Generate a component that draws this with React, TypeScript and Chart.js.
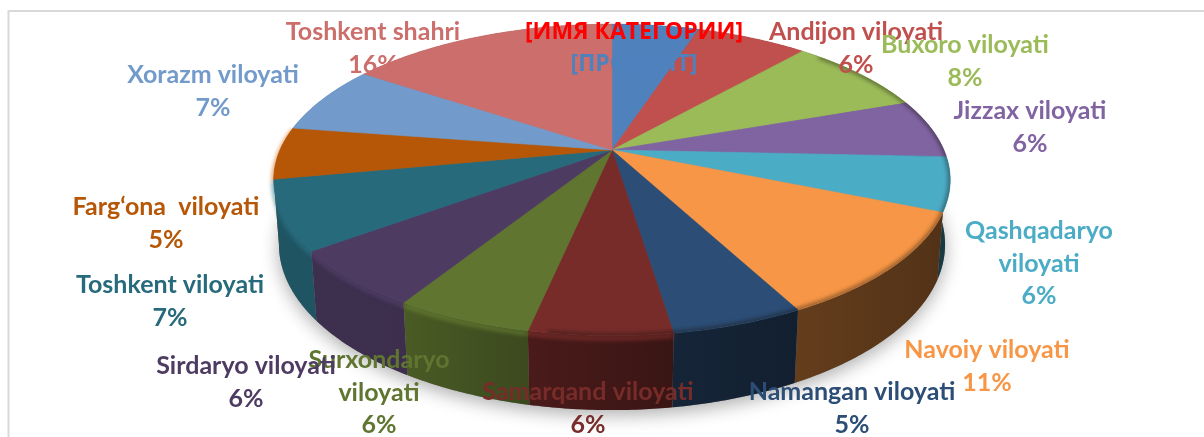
import React, { useEffect, useRef } from "react";
import { Chart, registerables } from "chart.js";

Chart.register(...registerables);

const categories = [
  "[ИМЯ КАТЕГОРИИ]", "Andijon viloyati", "Buxoro viloyati", "Jizzax viloyati",
  "Qashqadaryo\nviloyati", "Navoiy viloyati", "Namangan viloyati", "Samarqand viloyati",
  "Surxondaryo\nviloyati", "Sirdaryo viloyati", "Toshkent viloyati", "Farg‘ona  viloyati",
  "Xorazm viloyati", "Toshkent shahri",
];
const values = [5.0, 6.4, 8.2, 6.1, 5.6, 11.0, 5.3, 5.7, 5.5, 6.0, 7.2, 5.4, 7.1, 15.5];
const percentLabels = ["[ПРОЦЕНТ]", "6%", "8%", "6%", "6%", "11%", "5%", "6%", "6%", "6%", "7%", "5%", "7%", "16%"];
const sliceColors = [
  "#4f81bd", "#c0504d", "#9bbb59", "#8064a2", "#4bacc6", "#f79646", "#2c4d75",
  "#772c2a", "#5f7530", "#4d3b62", "#276a7c", "#b65708", "#729aca", "#cb6e6c",
];
const titleColors = ["#ff0000", ...sliceColors.slice(1)];
// label layout: centre x and first-line centre y
const labelAnchorX = [634, 856, 965, 1030, 1039, 987, 852, 588, 379, 246, 170, 166, 213, 373];
const labelAnchorY = [32, 32, 45, 111, 231, 350, 392, 392, 360, 366, 285, 207, 75, 32];

const LINE_H = 32.5;
const FONT = 'bold 25px Lato, "Open Sans", sans-serif';
const FONT_CYRILLIC = 'bold 23px "Open Sans", sans-serif';

function rgb(hex: string) {
  return [1, 3, 5].map((i) => parseInt(hex.slice(i, i + 2), 16));
}
function shade(hex: string, f: number, a = 1) {
  const [r, g, b] = rgb(hex).map((c) => Math.min(255, Math.round(c * f)));
  return `rgba(${r},${g},${b},${a})`;
}
const wallStops = [[275, 0.8], [405, 0.78], [530, 0.62], [675, 0.48], [800, 0.4], [950, 0.33]];
function wallFactor(x: number) {
  for (let i = 1; i < wallStops.length; i++) {
    const [x0, f0] = wallStops[i - 1];
    const [x1, f1] = wallStops[i];
    if (x <= x1) return f0 + ((f1 - f0) * Math.max(0, x - x0)) / (x1 - x0);
  }
  return 0.33;
}

const pie3d = {
  id: "pie3d",
  beforeDatasetsDraw(chart: any) {
    const ctx: CanvasRenderingContext2D = chart.ctx;
    const arcs = chart.getDatasetMeta(0).data;
    const { x: cx, y: cy, outerRadius: R } = arcs[0];
    const A = R * 2.213, B = R, D = R * 0.427, k = 0.192, m = 0.015;
    const pt = (a: number, h: number) => {
      const t = a + Math.PI / 2;
      const u = Math.sin(t), v = Math.cos(t);
      const w = 1 + k * v + m * h;
      return [cx + (A * u) / w, cy + (-B * v + D * h) / w];
    };
    const rim = (a0: number, a1: number, h: number) => {
      const n = Math.max(2, Math.ceil(Math.abs(a1 - a0) / 0.01));
      const out: number[][] = [];
      for (let i = 0; i <= n; i++) out.push(pt(a0 + ((a1 - a0) * i) / n, h));
      return out;
    };
    const trace = (p: number[][]) => p.forEach(([x, y]) => ctx.lineTo(x, y));

    ctx.save();
    // frame of the chart area
    ctx.strokeStyle = "#d9d9d9";
    ctx.lineWidth = 2;
    ctx.beginPath();
    ctx.moveTo(8.5, 437);
    ctx.lineTo(8.5, 11);
    ctx.lineTo(1204, 11);
    ctx.stroke();

    // soft ground shadow
    ctx.save();
    ctx.shadowColor = "rgba(0,0,0,0.32)";
    ctx.shadowBlur = 18;
    ctx.shadowOffsetY = 5;
    ctx.fillStyle = "#888";
    ctx.beginPath();
    trace(rim(-Math.PI / 2, 1.5 * Math.PI, 1));
    ctx.closePath();
    ctx.fill();
    ctx.restore();

    // walls, back to front
    const order = arcs
      .map((_: any, i: number) => i)
      .sort((a: number, b: number) => {
        const mid = (i: number) => Math.abs((arcs[i].startAngle + arcs[i].endAngle) / 2 + Math.PI / 2 - Math.PI);
        return mid(b) - mid(a);
      });
    for (const i of order) {
      const { startAngle: a0, endAngle: a1 } = arcs[i];
      const top = rim(a0, a1, 0);
      const bot = rim(a1, a0, 1);
      const all = top.concat(bot);
      const xs = all.map((p) => p[0]);
      const x0 = Math.min(...xs), x1 = Math.max(...xs);
      const g = ctx.createLinearGradient(x0, 0, x1 + 1, 0);
      g.addColorStop(0, shade(sliceColors[i], wallFactor(x0)));
      g.addColorStop(1, shade(sliceColors[i], wallFactor(x1)));
      ctx.fillStyle = g;
      ctx.beginPath();
      ctx.moveTo(all[0][0], all[0][1]);
      trace(all);
      ctx.closePath();
      ctx.fill();
    }

    // bevel highlight just under the rim on the front-left
    ctx.save();
    ctx.filter = "blur(2px)";
    ctx.lineWidth = 4;
    arcs.forEach((arc: any, i: number) => {
      const mid = (arc.startAngle + arc.endAngle) / 2 + Math.PI / 2;
      if (mid < Math.PI * 0.9 || mid > Math.PI * 1.6) return;
      ctx.strokeStyle = shade(sliceColors[i], 1.15, 0.75);
      ctx.beginPath();
      const p = rim(arc.startAngle, arc.endAngle, 0.035);
      ctx.moveTo(p[0][0], p[0][1]);
      trace(p);
      ctx.stroke();
    });
    ctx.restore();

    // top face
    arcs.forEach((arc: any, i: number) => {
      ctx.fillStyle = sliceColors[i];
      ctx.strokeStyle = sliceColors[i];
      ctx.lineWidth = 0.6;
      ctx.beginPath();
      ctx.moveTo(arc.x, arc.y);
      trace(rim(arc.startAngle, arc.endAngle, 0));
      ctx.closePath();
      ctx.fill();
      ctx.stroke();
    });

    // dark soft edge along the right-hand rim
    ctx.save();
    ctx.beginPath();
    ctx.moveTo(cx, cy);
    trace(rim(-Math.PI / 2, 1.5 * Math.PI, 0));
    ctx.closePath();
    ctx.clip();
    ctx.filter = "blur(2px)";
    ctx.strokeStyle = "rgba(20,15,10,0.5)";
    ctx.lineWidth = 4;
    ctx.beginPath();
    const edge = rim(-0.25 * Math.PI, 0.55 * Math.PI, 0);
    ctx.moveTo(edge[0][0], edge[0][1]);
    trace(edge);
    ctx.stroke();
    ctx.restore();

    // data labels
    ctx.textAlign = "center";
    ctx.textBaseline = "middle";
    categories.forEach((name, i) => {
      ctx.font = i === 0 ? FONT_CYRILLIC : FONT;
      const lines = name.split("\n");
      lines.forEach((line, j) => {
        ctx.fillStyle = titleColors[i];
        ctx.fillText(line, labelAnchorX[i], labelAnchorY[i] + j * LINE_H);
      });
      ctx.fillStyle = sliceColors[i];
      ctx.fillText(percentLabels[i], labelAnchorX[i], labelAnchorY[i] + lines.length * LINE_H);
    });
    ctx.restore();
    return false;
  },
};

export default function App() {
  const ref = useRef<HTMLCanvasElement>(null);
  useEffect(() => {
    const chart = new Chart(ref.current as HTMLCanvasElement, {
      type: "pie",
      data: {
        labels: categories.map((c) => c.replace("\n", " ")),
        datasets: [{ data: values, backgroundColor: sliceColors, borderWidth: 0 }],
      },
      options: {
        animation: false,
        responsive: false,
        devicePixelRatio: 1,
        layout: { padding: { left: 20, bottom: 137 } },
        plugins: { legend: { display: false }, tooltip: { enabled: false }, title: { display: false } },
      },
      plugins: [pie3d],
    } as any);
    return () => chart.destroy();
  }, []);
  return (
    <div style={{ position: "fixed", left: 0, top: 0, width: 1204, height: 437, background: "#fff" }}>
      <canvas ref={ref} width={1204} height={437} style={{ display: "block", width: 1204, height: 437 }} />
    </div>
  );
}
